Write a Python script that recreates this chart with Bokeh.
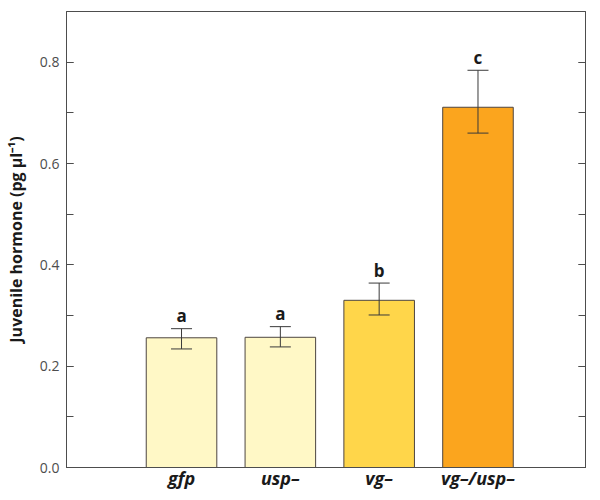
from bokeh.plotting import figure
from bokeh.models import (ColumnDataSource, Range1d, Whisker, TeeHead, LinearAxis,
                          SingleIntervalTicker, FixedTicker, CustomJSTickFormatter,
                          NumeralTickFormatter)
from bokeh.core.properties import value
from bokeh.embed import file_html
from bokeh.resources import INLINE

# ---- data ----
groups = ["gfp", "usp\u2013", "vg\u2013", "vg\u2013/usp\u2013"]
positions = [1, 2, 3, 4]
means = [0.256, 0.257, 0.330, 0.711]
err_lower = [0.234, 0.238, 0.301, 0.660]
err_upper = [0.274, 0.278, 0.364, 0.784]
letters = ["a", "a", "b", "c"]
colors = ["#FFF8C6", "#FFF8C6", "#FFD64A", "#FBA51E"]
y_ticks_major = 0.2

src = ColumnDataSource(dict(x=positions, top=means, lower=err_lower, upper=err_upper,
                            letter=letters, color=colors))

p = figure(width=592, height=492, output_backend="svg", toolbar_location=None,
           x_range=Range1d(-0.164, 5.088), y_range=Range1d(0, 0.9),
           min_border_left=66, min_border_right=7, min_border_top=11, min_border_bottom=25)
p.grid.visible = False
p.outline_line_color = "#4d4d4d"
p.outline_line_width = 1
p.background_fill_color = "white"
p.border_fill_color = "white"

p.vbar(x="x", top="top", width=0.714, bottom=0, source=src, fill_color="color",
       line_color="#4d4540", line_width=1)

w = Whisker(base="x", lower="lower", upper="upper", source=src,
            line_color="#3a3a3a", line_width=1, level="annotation",
            upper_head=TeeHead(size=21, line_color="#3a3a3a", line_width=1),
            lower_head=TeeHead(size=21, line_color="#3a3a3a", line_width=1))
p.add_layout(w)

p.text(x="x", y="upper", text="letter", source=src, text_align="center",
       text_baseline="alphabetic", y_offset=-13, text_font=value("Open Sans"),
       text_font_style="bold", text_font_size="17px", text_color="#1a1a1a")

# y axis
ya = p.yaxis[0]
ya.ticker = SingleIntervalTicker(interval=y_ticks_major, num_minor_ticks=2)
ya.formatter = NumeralTickFormatter(format="0.0")
ya.major_tick_in = 7
ya.major_tick_out = 0
ya.minor_tick_in = 7
ya.minor_tick_out = 0
ya.axis_line_color = "#4d4d4d"
ya.major_tick_line_color = "#4d4d4d"
ya.minor_tick_line_color = "#4d4d4d"
ya.major_label_text_font = "Open Sans"
ya.major_label_text_font_size = "14px"
ya.major_label_text_color = "#4d4d4d"
ya.major_label_standoff = 7
ya.axis_label = "Juvenile hormone (pg \u00b5l\u207b\u00b9)"
ya.axis_label_text_font = "Open Sans"
ya.axis_label_text_font_style = "bold"
ya.axis_label_text_font_size = "16px"
ya.axis_label_text_color = "#1a1a1a"
ya.axis_label_standoff = 10

# right axis: ticks only
ra = LinearAxis(ticker=SingleIntervalTicker(interval=y_ticks_major, num_minor_ticks=2),
                formatter=CustomJSTickFormatter(code="return ''"))
ra.major_tick_in = 7
ra.major_tick_out = 0
ra.minor_tick_in = 7
ra.minor_tick_out = 0
ra.axis_line_color = "#4d4d4d"
ra.major_tick_line_color = "#4d4d4d"
ra.minor_tick_line_color = "#4d4d4d"
ra.major_label_text_font_size = "1px"
ra.major_label_standoff = 0
p.add_layout(ra, "right")

# x axis
xa = p.xaxis[0]
xa.ticker = FixedTicker(ticks=positions)
xa.major_label_overrides = {pos: g for pos, g in zip(positions, groups)}
xa.major_tick_line_color = None
xa.minor_tick_line_color = None
xa.axis_line_color = "#4d4d4d"
xa.major_label_text_font = "Open Sans"
xa.major_label_text_font_style = "bold italic"
xa.major_label_text_font_size = "18px"
xa.major_label_text_color = "#1a1a1a"
xa.major_label_standoff = -8

open("out.html", "w").write(file_html(p, INLINE))
